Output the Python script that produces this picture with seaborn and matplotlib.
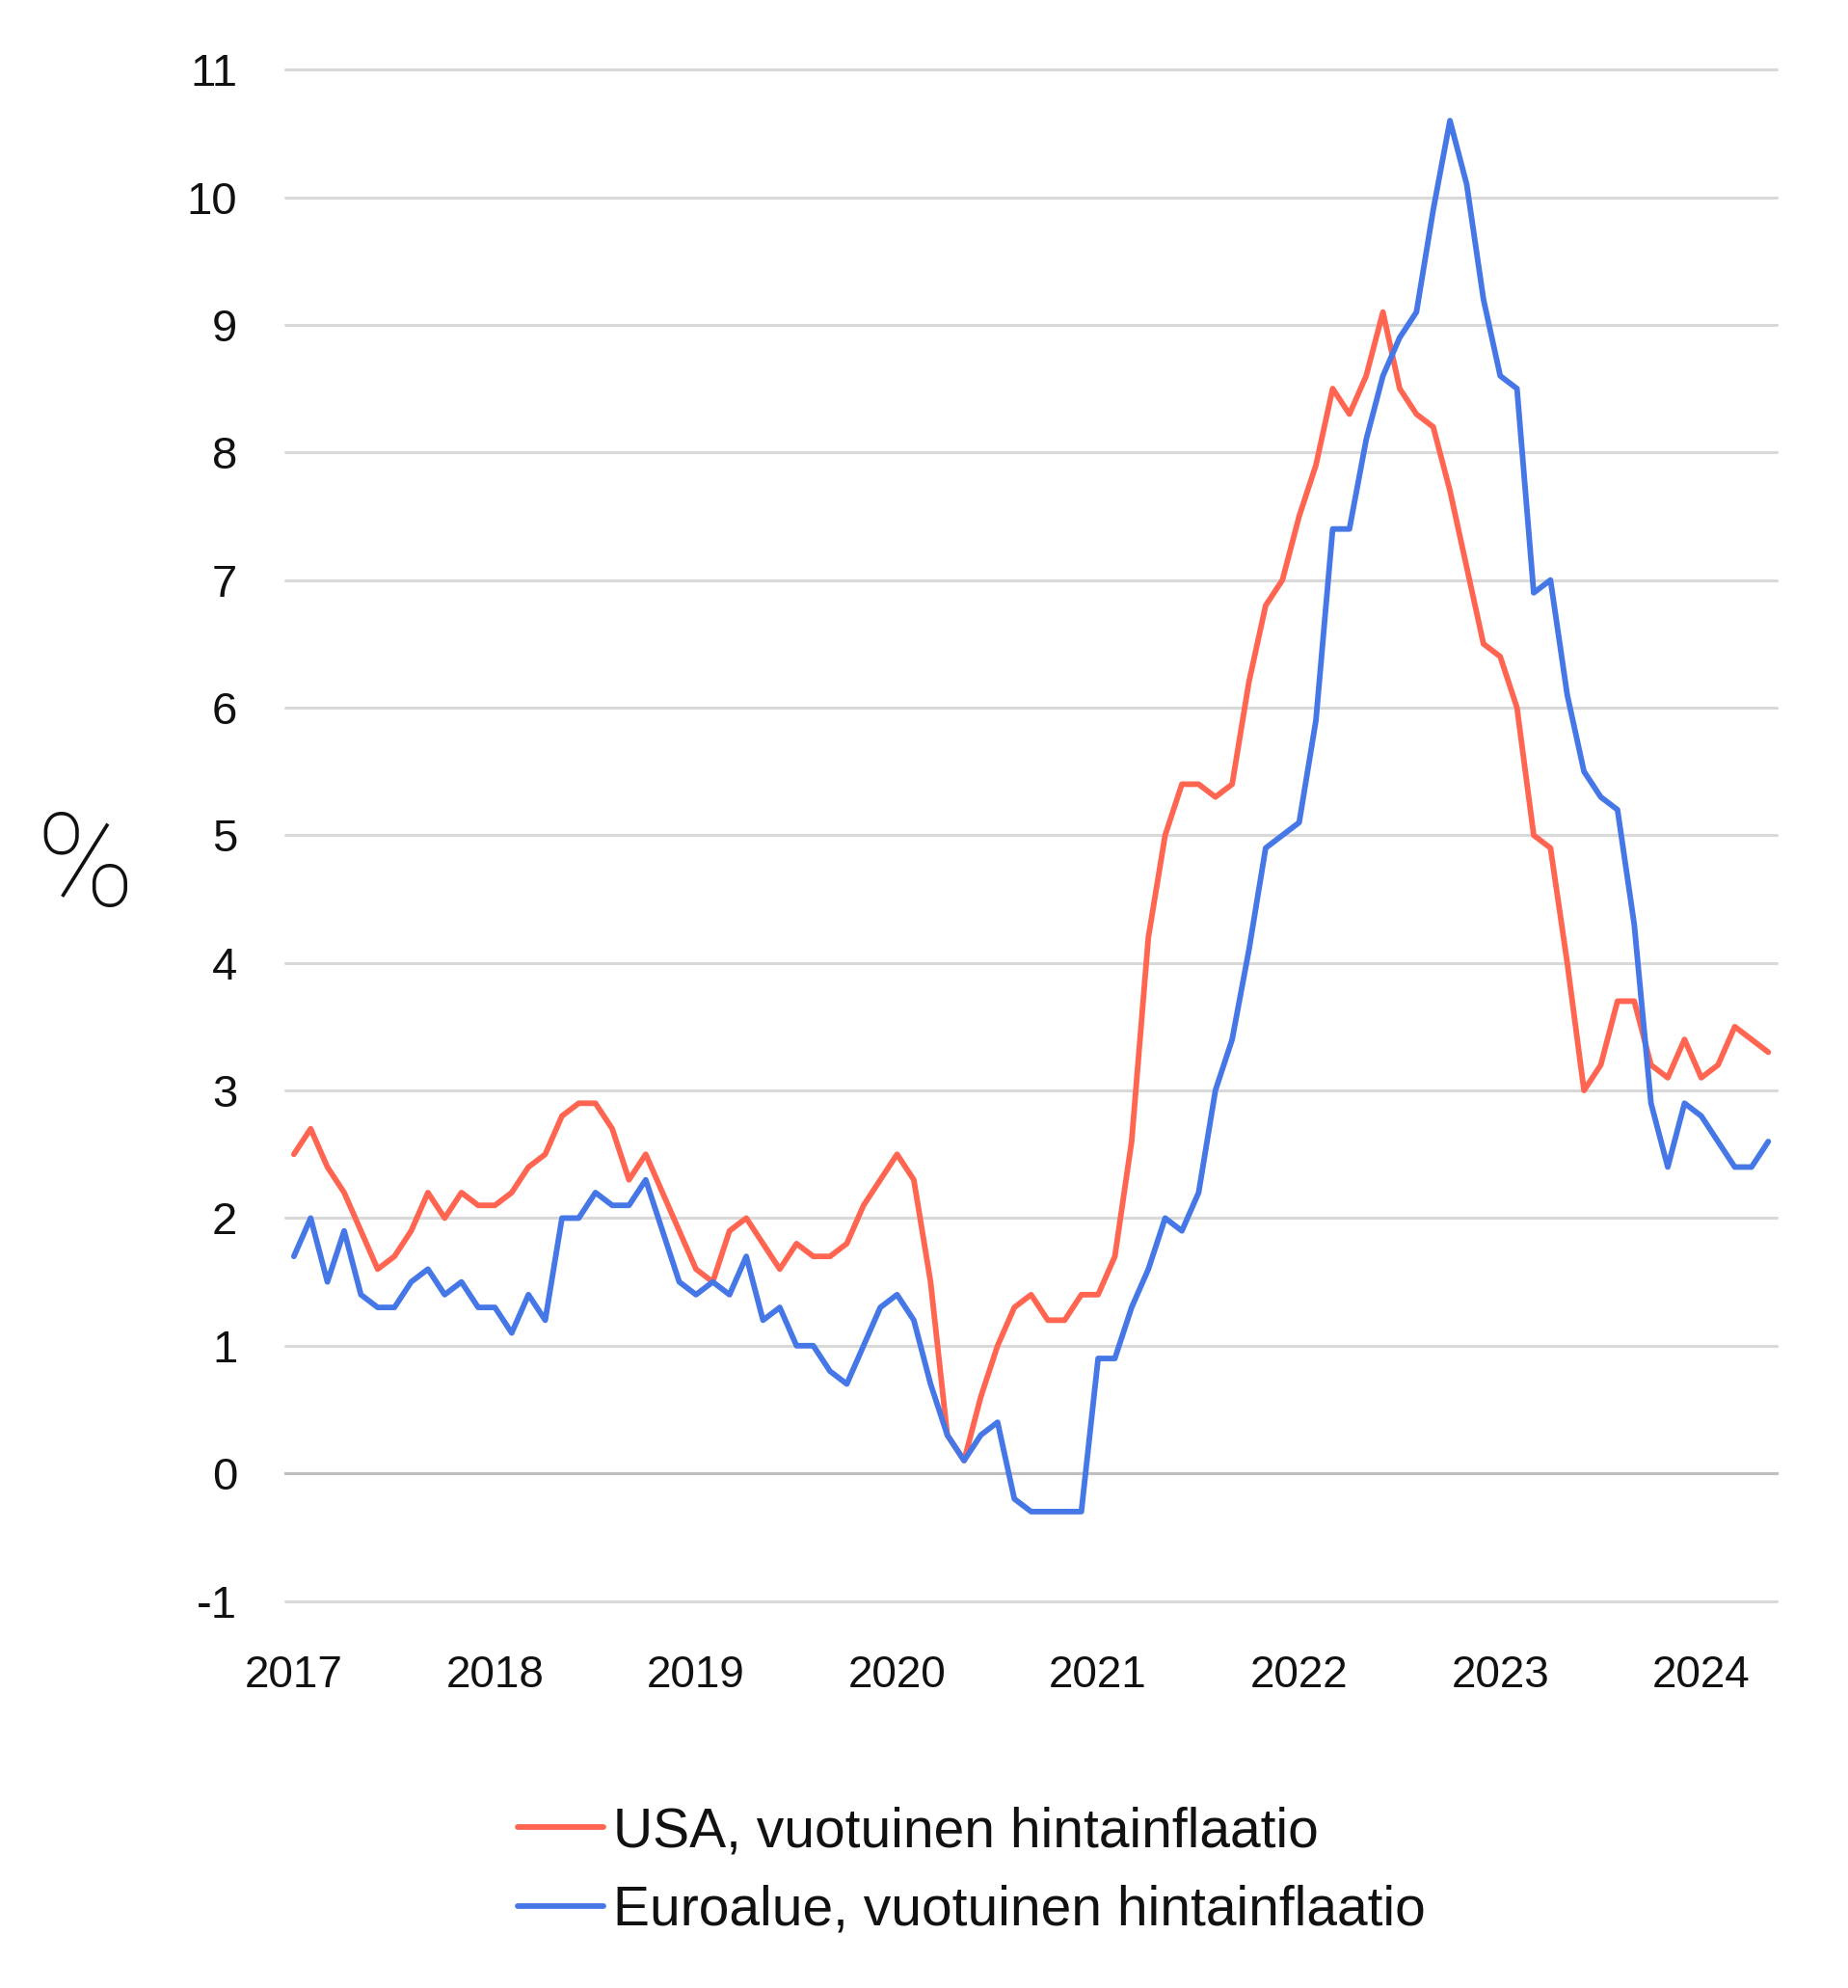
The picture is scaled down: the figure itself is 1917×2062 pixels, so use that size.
import numpy as np
import pandas as pd
import seaborn as sns
import matplotlib.pyplot as plt
from matplotlib.ticker import FixedLocator

# Monthly year-on-year inflation, Jan 2017 - May 2024
years = ["2017", "2018", "2019", "2020", "2021", "2022", "2023", "2024"]
usa = [2.5, 2.7, 2.4, 2.2, 1.9, 1.6, 1.7, 1.9, 2.2, 2.0, 2.2, 2.1,
       2.1, 2.2, 2.4, 2.5, 2.8, 2.9, 2.9, 2.7, 2.3, 2.5, 2.2, 1.9,
       1.6, 1.5, 1.9, 2.0, 1.8, 1.6, 1.8, 1.7, 1.7, 1.8, 2.1, 2.3,
       2.5, 2.3, 1.5, 0.3, 0.1, 0.6, 1.0, 1.3, 1.4, 1.2, 1.2, 1.4,
       1.4, 1.7, 2.6, 4.2, 5.0, 5.4, 5.4, 5.3, 5.4, 6.2, 6.8, 7.0,
       7.5, 7.9, 8.5, 8.3, 8.6, 9.1, 8.5, 8.3, 8.2, 7.7, 7.1, 6.5,
       6.4, 6.0, 5.0, 4.9, 4.0, 3.0, 3.2, 3.7, 3.7, 3.2, 3.1, 3.4,
       3.1, 3.2, 3.5, 3.4, 3.3]
euro = [1.7, 2.0, 1.5, 1.9, 1.4, 1.3, 1.3, 1.5, 1.6, 1.4, 1.5, 1.3,
        1.3, 1.1, 1.4, 1.2, 2.0, 2.0, 2.2, 2.1, 2.1, 2.3, 1.9, 1.5,
        1.4, 1.5, 1.4, 1.7, 1.2, 1.3, 1.0, 1.0, 0.8, 0.7, 1.0, 1.3,
        1.4, 1.2, 0.7, 0.3, 0.1, 0.3, 0.4, -0.2, -0.3, -0.3, -0.3, -0.3,
        0.9, 0.9, 1.3, 1.6, 2.0, 1.9, 2.2, 3.0, 3.4, 4.1, 4.9, 5.0,
        5.1, 5.9, 7.4, 7.4, 8.1, 8.6, 8.9, 9.1, 9.9, 10.6, 10.1, 9.2,
        8.6, 8.5, 6.9, 7.0, 6.1, 5.5, 5.3, 5.2, 4.3, 2.9, 2.4, 2.9,
        2.8, 2.6, 2.4, 2.4, 2.6]
series_names = ["USA, vuotuinen hintainflaatio", "Euroalue, vuotuinen hintainflaatio"]
colors = ["#FF6550", "#4677E6"]

sns.set_theme(style="white")
plt.rcParams["font.family"] = ["Liberation Sans Narrow", "Liberation Sans", "DejaVu Sans"]
plt.rcParams["axes.unicode_minus"] = False

month = np.arange(len(usa))
df = pd.DataFrame({
    "month": np.concatenate([month, month]),
    "value": usa + euro,
    "series": [series_names[0]] * len(usa) + [series_names[1]] * len(euro),
})

fig = plt.figure(figsize=(19.17, 20.62), dpi=100)
ax = fig.add_axes([0.1545, 0.1947, 0.8069, 0.7703])

sns.lineplot(data=df, x="month", y="value", hue="series", palette=colors,
             linewidth=4.2, ax=ax, legend=True, zorder=3)

ax.set_xlim(-0.5, 88.5)
ax.set_ylim(-1, 11)
ax.set_yticks(range(-1, 12))
ax.grid(axis="y", color="#D9D9D9", linewidth=2.2, clip_on=False)
ax.set_axisbelow(True)
for s in ["top", "right", "left"]:
    ax.spines[s].set_visible(False)
ax.spines["bottom"].set_position(("data", 0))
ax.spines["bottom"].set_color("#BFBFBF")
ax.spines["bottom"].set_linewidth(2.2)
ax.spines["bottom"].set_zorder(2)

ax.set_xticks(np.arange(len(years)) * 12)
ax.set_xticklabels(years)
ax.xaxis.set_minor_locator(FixedLocator(np.arange(len(years)) * 12 - 0.5))
ax.tick_params(axis="x", which="major", length=0, pad=135, labelsize=33, labelcolor="#111111")
ax.tick_params(axis="x", which="minor", length=11, width=2, color="#D0D0D0", direction="out")
ax.tick_params(axis="y", length=0, pad=36, labelsize=34, labelcolor="#111111")
ax.set_xlabel("")
ax.set_ylabel("")

# big thin percent sign used as the y-axis title
fig.text(0.046, 0.562, "%", fontsize=98, fontweight="light", color="#111111",
         ha="center", va="center", family=["Roboto", "Lato", "DejaVu Sans"])

handles, labels = ax.get_legend_handles_labels()
leg = ax.legend(handles, labels, loc="upper left", bbox_to_anchor=(0.2803, 0.0915),
                bbox_transform=fig.transFigure, frameon=False, fontsize=41,
                handlelength=1.55, handletextpad=0.18, labelspacing=0.48,
                borderpad=0, borderaxespad=0)
for t in leg.get_texts():
    t.set_color("#111111")

fig.savefig("out.png", dpi=100)
